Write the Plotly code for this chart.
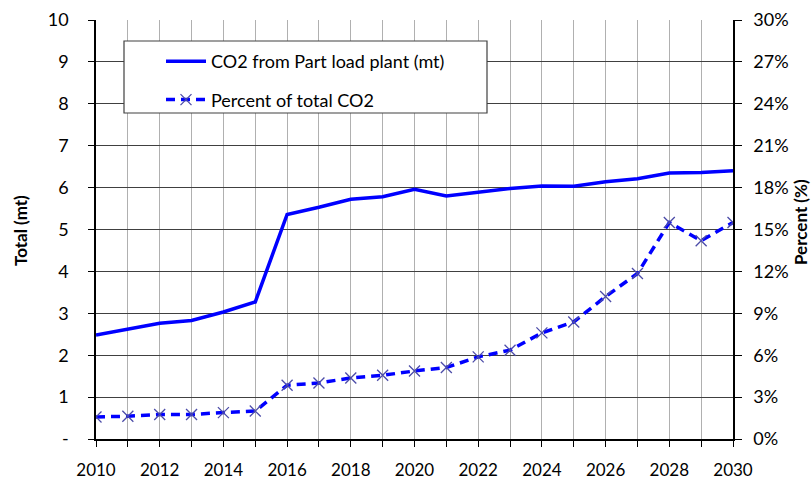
import plotly.graph_objects as go

years = list(range(2010, 2031))
co2_mt = [2.48, 2.62, 2.76, 2.83, 3.03, 3.27, 5.36, 5.53, 5.72, 5.78, 5.96,
          5.80, 5.90, 5.98, 6.04, 6.03, 6.14, 6.21, 6.35, 6.36, 6.40]
pct_total = [1.58, 1.63, 1.75, 1.76, 1.89, 2.0, 3.85, 4.01, 4.37, 4.56, 4.87,
             5.12, 5.88, 6.36, 7.6, 8.38, 10.2, 11.85, 15.5, 14.2, 15.5]

left_ticks = list(range(0, 11))
left_text = ["-"] + [str(v) for v in range(1, 11)]
right_ticks = list(range(0, 31, 3))
right_text = [f"{v}%" for v in right_ticks]
x_ticks = list(range(2010, 2031, 2))

FONT = "Lato, 'Open Sans', sans-serif"
L, R, T, B = 96, 733, 20, 439
PW, PH = R - L, B - T

fig = go.Figure()
fig.add_trace(go.Scatter(
    x=years, y=co2_mt, name="CO2 from Part load plant (mt)",
    mode="lines", line=dict(color="#0000ff", width=3.5),
    legendgroup="a", yaxis="y"))
fig.add_trace(go.Scatter(
    x=years, y=pct_total, name="Percent of total CO2",
    mode="lines+markers",
    line=dict(color="#0000ff", width=3.5, dash="9px,6px"),
    marker=dict(symbol="x-thin", size=11, line=dict(color="#4c4ca8", width=1.3)),
    legendgroup="b", yaxis="y2"))

fig.update_layout(
    width=811, height=482,
    margin=dict(l=L, r=811 - R, t=T, b=482 - B, autoexpand=False),
    paper_bgcolor="white", plot_bgcolor="white",
    font=dict(family=FONT, size=18, color="black"),
    showlegend=True,
    legend=dict(x=(161 - L) / PW, y=(B - 43) / PH, xanchor="left", yanchor="top",
                bgcolor="rgba(0,0,0,0)", borderwidth=0,
                font=dict(size=18), tracegroupgap=12,
                traceorder="grouped", itemwidth=40),
    xaxis=dict(range=[2010, 2030], tickvals=x_ticks, ticktext=[str(v) for v in x_ticks],
               showgrid=True, gridcolor="#b0b0b0", gridwidth=1,
               showline=True, linecolor="black", linewidth=1.5,
               ticks="outside", ticklen=6, tickcolor="black",
               ticklabelstandoff=9, automargin=False, tickfont=dict(size=17),
               minor=dict(tickvals=years, ticks="outside", ticklen=6, tickcolor="black",
                          showgrid=True, gridcolor="#b0b0b0", gridwidth=1),
               zeroline=False, fixedrange=True),
    yaxis=dict(range=[0, 10], tickvals=left_ticks, ticktext=left_text,
               showgrid=True, gridcolor="#404040", gridwidth=1,
               showline=True, linecolor="black", linewidth=1.5,
               ticks="outside", ticklen=6, tickcolor="black",
               ticklabelstandoff=16, zeroline=False, automargin=False),
    yaxis2=dict(range=[0, 30], tickvals=right_ticks, ticktext=right_text,
                overlaying="y", side="right", showgrid=False,
                showline=True, linecolor="black", linewidth=1.5,
                ticks="outside", ticklen=7, tickcolor="black",
                ticklabelstandoff=8, zeroline=False, automargin=False),
    shapes=[dict(type="rect", xref="paper", yref="paper",
                 x0=(124 - L) / PW, x1=(487 - L) / PW,
                 y0=(B - 113) / PH, y1=(B - 41) / PH,
                 fillcolor="white", line=dict(color="#404040", width=1.2),
                 layer="above")],
    annotations=[
        dict(text="<b>Total (mt)</b>", xref="paper", yref="paper",
             x=(20 - L) / PW, y=(B - 231) / PH, textangle=-90, showarrow=False,
             font=dict(size=17), xanchor="center", yanchor="middle"),
        dict(text="<b>Percent (%)</b>", xref="paper", yref="paper",
             x=(800 - L) / PW, y=(B - 222) / PH, textangle=-90, showarrow=False,
             font=dict(size=17), xanchor="center", yanchor="middle"),
    ],
)

fig.write_html("out.html", config={"displayModeBar": False},
               post_script="document.body.style.margin='0';document.body.style.overflow='hidden';")
